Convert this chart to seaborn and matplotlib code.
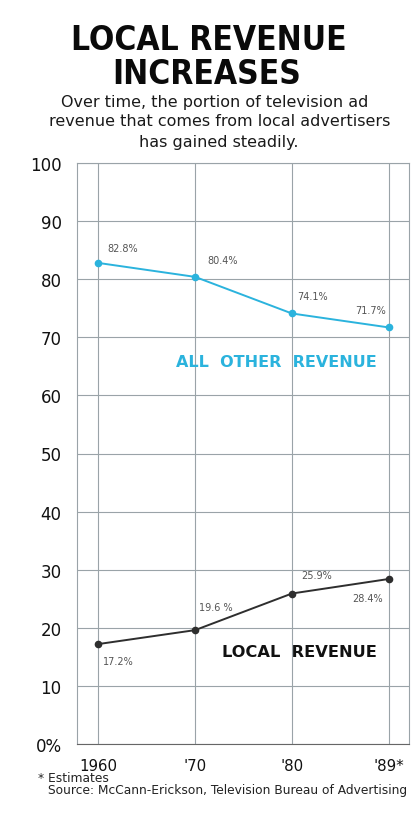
import matplotlib
matplotlib.use("Agg")
import matplotlib.pyplot as plt
import seaborn as sns
import pandas as pd

years = ["1960", "'70", "'80", "'89*"]
other_revenue = [82.8, 80.4, 74.1, 71.7]
local_revenue = [17.2, 19.6, 25.9, 28.4]
other_labels = ["82.8%", "80.4%", "74.1%", "71.7%"]
local_labels = ["17.2%", "19.6 %", "25.9%", "28.4%"]
y_ticks = [0, 10, 20, 30, 40, 50, 60, 70, 80, 90, 100]
y_tick_labels = ["0%", "10", "20", "30", "40", "50", "60", "70", "80", "90", "100"]

sns.set_theme(style="white")
plt.rcParams['font.family'] = ['DejaVu Sans']

CYAN = "#2bb3dd"
DARK = "#2e2e2e"
GRID = "#9aa3a8"

df = pd.DataFrame({
    "pos": list(range(len(years))) * 2,
    "value": other_revenue + local_revenue,
    "series": ["other"] * len(years) + ["local"] * len(years),
})

fig = plt.figure(figsize=(4.15, 8.28), dpi=100)
ax = fig.add_axes([77 / 415, 1 - 745 / 828, (409 - 77) / 415, (745 - 164) / 828])

sns.lineplot(data=df, x="pos", y="value", hue="series",
             palette={"other": CYAN, "local": DARK}, marker="o",
             markersize=5.5, markeredgewidth=0, linewidth=1.4,
             legend=False, ax=ax, zorder=3)

ax.set_xlim(-0.22, 3.21)
ax.set_ylim(0, 100)
ax.set_yticks(y_ticks)
ax.set_yticklabels(y_tick_labels, fontsize=12, color="#111111")
ax.set_xticks(range(len(years)))
ax.set_xticklabels(years, fontsize=10.8, color="#111111")
ax.set_xlabel("")
ax.set_ylabel("")
ax.tick_params(axis="x", length=0, pad=10)
ax.tick_params(axis="y", length=0, pad=11)
ax.grid(True, color=GRID, linewidth=0.8)
for s in ax.spines.values():
    s.set_visible(True)
    s.set_color(GRID)
    s.set_linewidth(0.8)
ax.spines["bottom"].set_color("#666666")

# data labels
other_off = [(9, 15), (12, 17), (5, 17), (-33, 17)]
local_off = [(5, -17), (4, 23), (9, 19), (-36, -19)]
for i, (v, lab) in enumerate(zip(other_revenue, other_labels)):
    ax.annotate(lab, (i, v), xytext=other_off[i], textcoords="offset pixels",
                fontsize=7, color="#555555", ha="left", va="center")
for i, (v, lab) in enumerate(zip(local_revenue, local_labels)):
    ax.annotate(lab, (i, v), xytext=local_off[i], textcoords="offset pixels",
                fontsize=7, color="#555555", ha="left", va="center")

ax.text(1.84, 65.8, "ALL  OTHER  REVENUE", color=CYAN, fontsize=11.5,
        fontweight="bold", ha="center", va="center")
ax.text(2.08, 16.0, "LOCAL  REVENUE", color="#111111", fontsize=11.7,
        fontweight="bold", ha="center", va="center")

fig.text(209 / 415, 1 - 41 / 828, "LOCAL REVENUE", fontsize=24, fontweight="bold",
         fontstretch="condensed", ha="center", va="center", color="#0a0a0a")
fig.text(207 / 415, 1 - 74 / 828, "INCREASES", fontsize=24, fontweight="bold",
         fontstretch="condensed", ha="center", va="center", color="#0a0a0a")
fig.text(215 / 415, 1 - 102 / 828, "Over time, the portion of television ad",
         fontsize=11.5, ha="center", va="center", color="#1a1a1a")
fig.text(220 / 415, 1 - 122 / 828, "revenue that comes from local advertisers",
         fontsize=11.5, ha="center", va="center", color="#1a1a1a")
fig.text(219 / 415, 1 - 142 / 828, "has gained steadily.",
         fontsize=11.5, ha="center", va="center", color="#1a1a1a")

fig.text(38 / 415, 1 - 779 / 828, "* Estimates", fontsize=8.8,
         ha="left", va="center", color="#222222")
fig.text(48 / 415, 1 - 791 / 828,
         "Source: McCann-Erickson, Television Bureau of Advertising",
         fontsize=8.8, ha="left", va="center", color="#222222")

fig.savefig("out.png", dpi=100)
